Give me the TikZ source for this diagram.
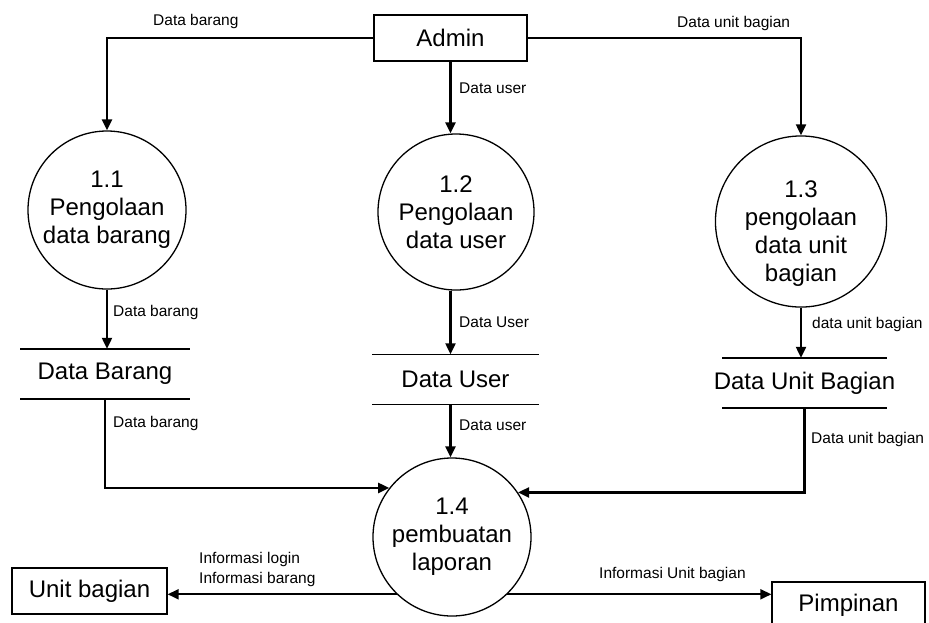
\documentclass[tikz,border=0pt]{standalone}
\usepackage{fontspec}
\setmainfont{Liberation Sans}
\usetikzlibrary{arrows.meta}
\begin{document}
\begin{tikzpicture}[x=1pt,y=-1pt,
		proc/.style={circle,draw,line width=1.3pt,minimum size=158pt,inner sep=0pt,align=center,font=\fontsize{24}{28}\selectfont},
		ent/.style={rectangle,draw,line width=1.3pt,minimum width=153pt,minimum height=46pt,font=\fontsize{24}{28}\selectfont},
		store/.style={minimum height=50pt,inner xsep=0pt,font=\fontsize{24}{28}\selectfont},
		flow/.style={line width=2.2pt,-{Triangle[length=11pt,width=10pt]}},
		lbl/.style={anchor=west,inner sep=0pt,font=\fontsize{15.5}{20}\selectfont}]
		\useasboundingbox (0,0) rectangle (929,622);
		%entitas luar
		\node[ent] (admin) at (450.5,38) {Admin};
		\node[ent,minimum width=155pt] (unitbagian) at (89.5,591) {Unit bagian};
		\node[ent] (pimpinan) at (848.5,605) {Pimpinan};
		%proses
		\node[proc] (p11) at (107,210) {1.1\\Pengolaan\\data barang};
		\node[proc,minimum size=156pt] (p12) at (456,212) {1.2\\Pengolaan\\data user};
		\node[proc,minimum size=156pt] (p13) at (801,221.5) {\rule{0pt}{40pt}1.3\\pengolaan\\data unit\\bagian};
		\node[proc] (p14) at (452,537) {1.4\\pembuatan\\laporan};
		%data store
		\node[store] (dbarang) at (105,374) {Data Barang};
		\node[store] (duser) at (455.5,379.5) {Data User};
		\node[store] (dunit) at (804.5,383) {Data Unit Bagian};
		\foreach \s/\w in {dbarang/85,duser/83.5,dunit/82.5}{
			\draw[line width=1.5pt] ([xshift=-\w pt]\s.north) -- ([xshift=\w pt]\s.north);
			\draw[line width=1.5pt] ([xshift=-\w pt]\s.south) -- ([xshift=\w pt]\s.south);
		}
		%aliran data
		\draw[flow] (admin.west) -| (p11.north);
		\draw[flow] (admin.south) -- (admin.south |- p12.north);
		\draw[flow] (admin.east) -| (p13.north);
		\draw[flow] (p11.south) -- (p11.south |- dbarang.north);
		\draw[flow] (admin.south |- p12.south) -- (admin.south |- duser.north);
		\draw[flow] (p13.south) -- (p13.south |- dunit.north);
		\draw[flow] (dbarang.south) |- (p14.142);
		\draw[flow] (admin.south |- duser.south) -- (admin.south |- p14.north);
		\draw[flow] (dunit.south) |- (p14.34);
		\draw[flow] (p14.226) -- (p14.226 -| unitbagian.east);
		\draw[flow] (p14.-46) -- (p14.-46 -| pimpinan.west);
		%label
		\node[lbl] (l1) at (153,21) {Data barang};
		\node[lbl] (l2) at (459,88) {Data user};
		\node[lbl] (l3) at (677,23) {Data unit bagian};
		\node[lbl] (l4) at (113,312) {Data barang};
		\node[lbl] (l5) at (459,322) {Data User};
		\node[lbl] (l6) at (812,324) {data unit bagian};
		\node[lbl] (l7) at (113,423) {Data barang};
		\node[lbl] (l8) at (459,425) {Data user};
		\node[lbl] (l9) at (811,439) {Data unit bagian};
		\node[lbl,align=left] (l10) at (199,569) {Informasi login\\Informasi barang};
		\node[lbl] (l11) at (599,574) {Informasi Unit bagian};
	\end{tikzpicture}
\end{document}
